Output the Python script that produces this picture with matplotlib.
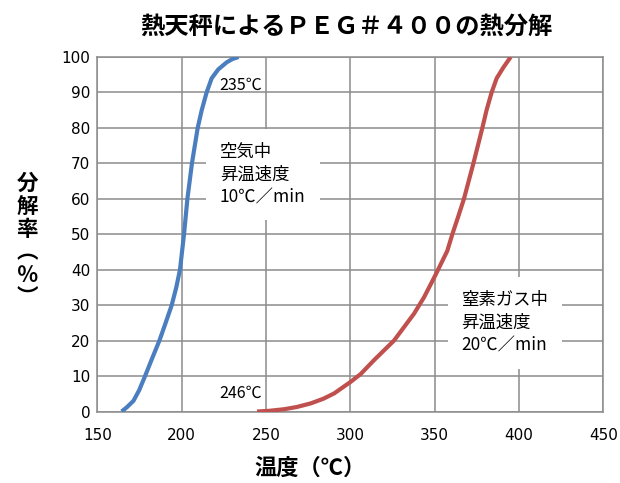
import matplotlib
matplotlib.use("Agg")
import matplotlib.pyplot as plt

plt.rcParams['font.family'] = ['Noto Sans CJK JP', 'DejaVu Sans']

# 空気中 10℃/min (blue)
air_temp = [164.4, 167.5, 171.4, 174.8, 178.3, 182.5, 186.8, 190.5, 194.1, 196.8, 199.0,
            201.4, 203.4, 206.1, 209.5, 211.9, 214.8, 217.8, 221.7, 226.7, 230.0, 233.7]
air_rate = [0.0, 1.2, 3.0, 6.0, 10.0, 15.0, 20.0, 25.0, 30.0, 35.0, 40.0,
            50.0, 60.0, 70.0, 80.0, 85.0, 90.0, 94.0, 96.5, 98.5, 99.4, 100.0]

# 窒素ガス中 20℃/min (red)
n2_temp = [244.7, 252.0, 260.8, 268.5, 276.6, 284.0, 290.4, 300.3, 306.2, 314.1, 325.9,
           337.8, 343.7, 350.5, 357.5, 360.5, 364.0, 367.4, 373.0, 378.3, 380.8, 383.8,
           386.8, 390.7, 395.1]
n2_rate = [0.0, 0.2, 0.65, 1.3, 2.3, 3.6, 5.1, 8.4, 10.6, 14.5, 20.0,
           27.6, 32.2, 38.5, 45.3, 50.0, 55.0, 60.0, 70.0, 80.0, 85.0, 90.0,
           94.0, 97.0, 100.0]

fig = plt.figure(figsize=(6.2, 4.83), dpi=100)
ax = fig.add_axes([0.157, 0.148, 0.816, 0.734])

grid_c = "#8c8c8c"
ax.set_xlim(150, 450)
ax.set_ylim(0, 100)
ax.set_xticks(range(150, 451, 50))
ax.set_yticks(range(0, 101, 10))
ax.grid(True, color=grid_c, linewidth=1.1)
ax.set_axisbelow(True)
for s in ax.spines.values():
    s.set_color(grid_c)
    s.set_linewidth(1.1)
ax.tick_params(length=0, labelsize=11)
ax.tick_params(axis="x", pad=12)
ax.tick_params(axis="y", pad=5)
for lab in ax.get_xticklabels() + ax.get_yticklabels():
    lab.set_family("DejaVu Sans")

ax.plot(air_temp, air_rate, color="#4a7ebf", linewidth=3, solid_joinstyle="round",
        solid_capstyle="butt", zorder=3)
ax.plot(n2_temp, n2_rate, color="#c0504d", linewidth=3, solid_joinstyle="round",
        solid_capstyle="butt", zorder=3)

ax.text(235.2, 92.1, "235℃", fontsize=11.5, ha="center", va="center", zorder=4)
ax.text(235.2, 5.2, "246℃", fontsize=11.5, ha="center", va="center", zorder=4)

box = dict(facecolor="white", edgecolor="none", pad=10)
ax.text(222.7, 75.8, "空気中\n昇温速度\n10℃／min", fontsize=12.5, ha="left", va="top",
        linespacing=1.35, bbox=box, zorder=4)
ax.text(366.0, 34.0, "窒素ガス中\n昇温速度\n20℃／min", fontsize=12.5, ha="left", va="top",
        linespacing=1.35, bbox=box, zorder=4)

fig.text(0.558, 0.944, "熱天秤によるＰＥＧ＃４００の熱分解", fontsize=17.5, fontweight="bold",
         ha="center", va="center")
fig.text(0.5, 0.031, "温度（℃）", fontsize=16, fontweight="bold", ha="center", va="center")
fig.text(0.044, 0.502, "分\n解\n率\n︵\n％\n︶", fontsize=15.5, fontweight="bold",
         ha="center", va="center", linespacing=1.12)

fig.savefig("out.png", dpi=100)
